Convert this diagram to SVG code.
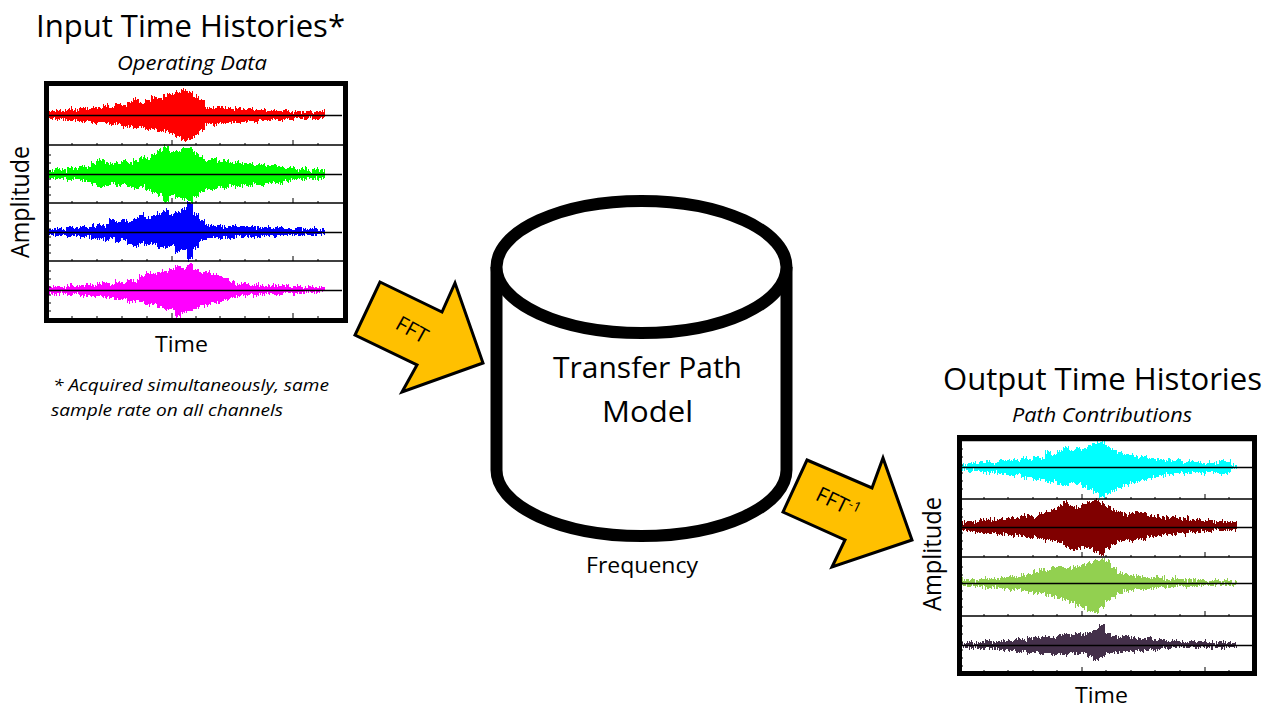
<svg xmlns="http://www.w3.org/2000/svg" width="1275" height="724" viewBox="0 0 1275 724">
<defs>
<style>
.t{font-family:"Open Sans","Noto Sans","DejaVu Sans",sans-serif;fill:#000}
.it{font-style:italic}
.frame{fill:#fff;stroke:#000;stroke-width:5}
.div{stroke:#000;stroke-width:1.3;fill:none}
.tick{stroke:#000;stroke-width:1;fill:none}
.cyl{fill:#fff;stroke:#000;stroke-width:12}
.arrow{fill:#FFC000;stroke:#000;stroke-width:3;stroke-linejoin:miter}
.wave{filter:url(#jag)}
</style>
<filter id="jag" x="-2%" y="-30%" width="104%" height="160%" color-interpolation-filters="sRGB">
<feTurbulence type="fractalNoise" baseFrequency="0.9 0.09" numOctaves="2" seed="7" result="n"/>
<feColorMatrix in="n" type="matrix" values="0 0 0 0 0.5  1 0 0 0 0  0 0 0 0 0  0 0 0 0 1" result="n2"/>
<feDisplacementMap in="SourceGraphic" in2="n2" scale="9" xChannelSelector="R" yChannelSelector="G"/>
</filter>
<path id="tl" class="tick" d="M72 0v-2M97 0v-2M122 0v-2M147 0v-2M172 0v-5M196 0v-2M220 0v-2M245 0v-2M269 0v-2M293 0v-5M318 0v-2"/>
<path id="tr" class="tick" d="M984 0v-2M1008 0v-2M1033 0v-2M1057 0v-2M1082 0v-5M1106 0v-2M1131 0v-2M1155 0v-2M1180 0v-2M1205 0v-5M1229 0v-2"/>
<path id="ly" class="tick" d="M0 8h2M0 16h2M0 24h2M0 32h2M0 40h2M0 48h2"/>
</defs>
<rect width="1275" height="724" fill="#fff"/>

<g id="input-histories">
<text class="t" x="36" y="37" font-size="31" textLength="309" lengthAdjust="spacingAndGlyphs">Input Time Histories*</text>
<text class="t it" x="117" y="70" font-size="20" textLength="150" lengthAdjust="spacingAndGlyphs">Operating Data</text>
<rect class="frame" x="46.5" y="83.5" width="299" height="237"/>
<path class="wave" fill="#FF0000" d="M49 111h6V110h6V111h6V109h6V110h6V108h6V109h6V107h6V108h6V105h6V107h6V104h6V105h6V102h6V99h6V103h6V100h6V97h6V98h6V95h6V94h6V92h6V90h6V92h6V96h6V100h6V107h6V108h6V107h6V108h6V109h6V108h6V109h6V108h6V110h6V109h6V111h6V110h6V111h6V110h6V112h6V111h6V112h6V111h6V112h6V111h6V118h-6V119h-6V118h-6V119h-6V118h-6V120h-6V119h-6V120h-6V119h-6V121h-6V120h-6V122h-6V121h-6V122h-6V123h-6V122h-6V124h-6V123h-6V125h-6V124h-6V130h-6V136h-6V139h-6V140h-6V137h-6V134h-6V131h-6V132h-6V128h-6V130h-6V127h-6V128h-6V126h-6V127h-6V124h-6V125h-6V123h-6V122h-6V123h-6V121h-6V122h-6V120h-6V121h-6V119h-6V120h-6V119h-6Z"/>
<path class="wave" fill="#00FF00" d="M49 170h6V169h6V170h6V167h6V168h6V166h6V167h6V163h6V159h6V161h6V164h6V163h6V161h6V163h6V160h6V157h6V158h6V154h6V150h6V146h6V152h6V150h6V149h6V148h6V153h6V157h6V160h6V158h6V161h6V160h6V163h6V162h6V164h6V163h6V165h6V164h6V166h6V165h6V166h6V168h6V167h6V169h6V168h6V170h6V169h6V170h6V178h-6V179h-6V178h-6V180h-6V179h-6V180h-6V181h-6V183h-6V182h-6V183h-6V185h-6V184h-6V186h-6V185h-6V187h-6V186h-6V188h-6V187h-6V190h-6V189h-6V192h-6V196h-6V202h-6V199h-6V197h-6V195h-6V202h-6V196h-6V193h-6V190h-6V186h-6V189h-6V187h-6V184h-6V186h-6V183h-6V185h-6V187h-6V184h-6V182h-6V181h-6V179h-6V180h-6V178h-6V179h-6V178h-6Z"/>
<path class="wave" fill="#0000FF" d="M49 229h6V228h6V229h6V227h6V228h6V226h6V227h6V225h6V224h6V225h6V219h6V222h6V220h6V222h6V218h6V215h6V218h6V216h6V213h6V210h6V215h6V212h6V209h6V203h6V214h6V220h6V225h6V226h6V225h6V227h6V226h6V227h6V226h6V228h6V227h6V228h6V227h6V228h6V227h6V228h6V229h6V228h6V229h6V228h6V229h6V229h6V235h-6V235h-6V236h-6V235h-6V236h-6V235h-6V236h-6V235h-6V236h-6V235h-6V236h-6V237h-6V236h-6V237h-6V236h-6V238h-6V237h-6V238h-6V237h-6V238h-6V240h-6V248h-6V260h-6V250h-6V252h-6V246h-6V248h-6V247h-6V244h-6V245h-6V243h-6V247h-6V244h-6V240h-6V242h-6V239h-6V240h-6V238h-6V239h-6V237h-6V238h-6V236h-6V237h-6V235h-6V236h-6V235h-6Z"/>
<path class="wave" fill="#FF00FF" d="M49 287h6V286h6V287h6V285h6V286h6V285h6V284h6V285h6V284h6V283h6V284h6V282h6V283h6V280h6V281h6V276h6V273h6V274h6V271h6V272h6V269h6V266h6V268h6V265h6V270h6V272h6V271h6V274h6V275h6V278h6V282h6V284h6V283h6V285h6V284h6V285h6V286h6V285h6V286h6V285h6V287h6V286h6V287h6V286h6V287h6V287h6V292h-6V293h-6V292h-6V293h-6V293h-6V294h-6V293h-6V294h-6V295h-6V294h-6V295h-6V296h-6V295h-6V296h-6V297h-6V298h-6V300h-6V302h-6V303h-6V305h-6V306h-6V308h-6V311h-6V313h-6V317h-6V309h-6V310h-6V307h-6V304h-6V305h-6V303h-6V301h-6V302h-6V299h-6V300h-6V298h-6V297h-6V296h-6V297h-6V295h-6V296h-6V294h-6V295h-6V293h-6V294h-6V293h-6Z"/>
<path class="div" d="M49 115.5H342M49 174.5H342M49 232.5H342M49 290.5H342M49 145H343M49 203H343M49 261H343"/>
<use href="#tl" y="145"/><use href="#tl" y="203"/><use href="#tl" y="261"/><use href="#tl" y="318"/>
<use href="#ly" x="49" y="147"/><use href="#ly" x="49" y="205"/><use href="#ly" x="49" y="263"/>
<rect x="46.5" y="83.5" width="299" height="237" fill="none" stroke="#000" stroke-width="5"/>
<text class="t" transform="translate(29 202) rotate(-90)" text-anchor="middle" font-size="26" textLength="112" lengthAdjust="spacingAndGlyphs">Amplitude</text>
<text class="t" x="155" y="352" font-size="21" textLength="53" lengthAdjust="spacingAndGlyphs">Time</text>
<text class="t it" x="53" y="391" font-size="17" textLength="276" lengthAdjust="spacingAndGlyphs">* Acquired simultaneously, same</text>
<text class="t it" x="51" y="416" font-size="17" textLength="232" lengthAdjust="spacingAndGlyphs">sample rate on all channels</text>
</g>

<g id="transfer-path-model">
<path class="cyl" d="M496.5 267V470A145 66 0 0 0 786.5 470V267"/>
<ellipse class="cyl" cx="641.5" cy="267" rx="145" ry="66"/>
<text class="t" x="553" y="378" font-size="30" textLength="189" lengthAdjust="spacingAndGlyphs">Transfer Path</text>
<text class="t" x="602" y="422" font-size="30" textLength="91" lengthAdjust="spacingAndGlyphs">Model</text>
<text class="t" x="586" y="573" font-size="22" textLength="112" lengthAdjust="spacingAndGlyphs">Frequency</text>
</g>

<g id="output-histories">
<text class="t" x="943" y="390" font-size="31" textLength="319" lengthAdjust="spacingAndGlyphs">Output Time Histories</text>
<text class="t it" x="1012" y="422" font-size="20" textLength="180" lengthAdjust="spacingAndGlyphs">Path Contributions</text>
<rect class="frame" x="959.5" y="437.5" width="295" height="236"/>
<path class="wave" fill="#00FFFF" d="M961 464h6V463h6V464h6V462h6V461h6V463h6V460h6V461h6V459h6V460h6V458h6V459h6V456h6V458h6V452h6V455h6V450h6V447h6V451h6V447h6V449h6V445h6V443h6V442h6V446h6V450h6V452h6V454h6V455h6V457h6V456h6V458h6V459h6V460h6V459h6V461h6V460h6V462h6V461h6V462h6V463h6V462h6V463h6V460h6V461h6V465h6V469h-6V473h-6V474h-6V473h-6V472h-6V473h-6V472h-6V473h-6V474h-6V473h-6V474h-6V475h-6V476h-6V477h-6V479h-6V480h-6V482h-6V483h-6V485h-6V488h-6V491h-6V494h-6V497h-6V493h-6V490h-6V487h-6V484h-6V483h-6V485h-6V484h-6V481h-6V482h-6V479h-6V480h-6V477h-6V478h-6V475h-6V476h-6V473h-6V474h-6V472h-6V473h-6V472h-6V470h-6V471h-6V470h-6Z"/>
<path class="wave" fill="#800000" d="M961 522h6V521h6V522h6V520h6V519h6V520h6V518h6V519h6V517h6V518h6V516h6V515h6V516h6V513h6V512h6V509h6V506h6V502h6V506h6V508h6V504h6V501h6V500h6V503h6V506h6V510h6V512h6V514h6V513h6V512h6V513h6V515h6V516h6V517h6V518h6V517h6V519h6V518h6V520h6V519h6V521h6V520h6V522h6V521h6V522h6V522h6V530h-6V530h-6V531h-6V530h-6V532h-6V531h-6V533h-6V532h-6V534h-6V533h-6V535h-6V534h-6V535h-6V536h-6V537h-6V539h-6V540h-6V541h-6V540h-6V541h-6V545h-6V549h-6V555h-6V552h-6V549h-6V547h-6V548h-6V550h-6V546h-6V543h-6V540h-6V541h-6V539h-6V537h-6V538h-6V537h-6V535h-6V536h-6V534h-6V535h-6V533h-6V534h-6V533h-6V532h-6V531h-6V530h-6Z"/>
<path class="wave" fill="#92D050" d="M961 580h6V579h6V580h6V579h6V578h6V579h6V578h6V577h6V576h6V577h6V575h6V574h6V572h6V569h6V570h6V567h6V566h6V568h6V567h6V566h6V564h6V562h6V560h6V559h6V561h6V568h6V572h6V574h6V575h6V576h6V577h6V578h6V577h6V578h6V579h6V578h6V579h6V580h6V579h6V580h6V580h6V581h6V580h6V581h6V580h6V581h6V585h-6V586h-6V585h-6V585h-6V586h-6V585h-6V586h-6V586h-6V587h-6V586h-6V587h-6V588h-6V587h-6V588h-6V589h-6V590h-6V589h-6V590h-6V591h-6V593h-6V597h-6V601h-6V607h-6V613h-6V611h-6V608h-6V606h-6V603h-6V600h-6V599h-6V597h-6V596h-6V593h-6V594h-6V592h-6V591h-6V589h-6V590h-6V589h-6V588h-6V587h-6V588h-6V587h-6V586h-6V587h-6V586h-6Z"/>
<path class="wave" fill="#44304A" d="M961 643h6V642h6V643h6V642h6V641h6V642h6V641h6V640h6V641h6V639h6V640h6V638h6V637h6V638h6V636h6V637h6V635h6V634h6V635h6V633h6V634h6V632h6V629h6V625h6V633h6V636h6V637h6V636h6V637h6V638h6V639h6V638h6V640h6V639h6V641h6V640h6V641h6V642h6V641h6V642h6V641h6V642h6V643h6V641h6V642h6V643h6V647h-6V647h-6V648h-6V647h-6V648h-6V647h-6V648h-6V647h-6V648h-6V647h-6V648h-6V649h-6V648h-6V650h-6V649h-6V651h-6V650h-6V652h-6V651h-6V653h-6V652h-6V653h-6V657h-6V660h-6V656h-6V653h-6V654h-6V653h-6V655h-6V654h-6V655h-6V653h-6V654h-6V652h-6V653h-6V651h-6V652h-6V650h-6V651h-6V649h-6V650h-6V648h-6V649h-6V647h-6V648h-6V647h-6Z"/>
<path class="div" d="M961 467.5H1253M961 527.5H1253M961 583.5H1253M961 645.5H1253M961 440.5H1253M961 499H1253M961 557H1253M961 616H1253"/>
<use href="#tr" y="499"/><use href="#tr" y="557"/><use href="#tr" y="616"/><use href="#tr" y="672"/>
<use href="#ly" x="961" y="441"/><use href="#ly" x="961" y="501"/><use href="#ly" x="961" y="559"/><use href="#ly" x="961" y="618"/>
<rect x="959.5" y="437.5" width="295" height="236" fill="none" stroke="#000" stroke-width="5"/>
<text class="t" transform="translate(941 554) rotate(-90)" text-anchor="middle" font-size="26" textLength="114" lengthAdjust="spacingAndGlyphs">Amplitude</text>
<text class="t" x="1075" y="703" font-size="21" textLength="53" lengthAdjust="spacingAndGlyphs">Time</text>
</g>

<g id="connectors">
<g id="fft-arrow">
<polygon class="arrow" points="380,282 442,312 455,283 483,363 402,392 417,365 355,335"/>
<text class="t" transform="translate(412 330) rotate(29)" text-anchor="middle" y="7" font-size="21">FFT</text>
</g>
<g id="ifft-arrow">
<polygon class="arrow" points="807,460 872,488 883,458 912,540 832,567 845,540 783,512"/>
<text class="t" transform="translate(838 503) rotate(26)" text-anchor="middle" y="7" font-size="21">FFT<tspan font-size="14" dy="-7">-1</tspan></text>
</g>
</g>
</svg>
